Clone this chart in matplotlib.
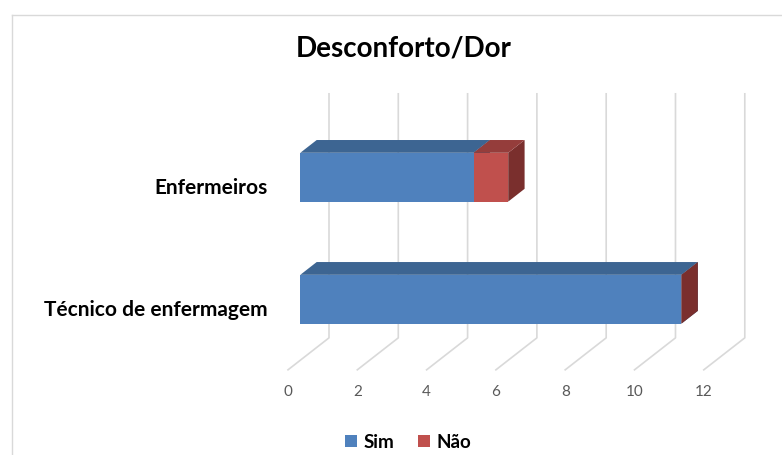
import matplotlib.pyplot as plt
from matplotlib.patches import Polygon

categories = ['Técnico de enfermagem', 'Enfermeiros']
sim = [11, 5]
nao = [0, 1]
series = [('Sim', sim), ('Não', nao)]
ticks = [0, 2, 4, 6, 8, 10, 12]

# face colours per series: front, top, side
colors = {
    'Sim': ('#4F81BD', '#3D6592', '#34577F'),
    'Não': ('#C0504D', '#953D3B', '#7A2F2D'),
}

W, H = 782, 456
fig = plt.figure(figsize=(W / 100, H / 100), dpi=100)
ax = fig.add_axes([0, 0, 1, 1])
ax.set_xlim(-8.312, 14.257)
ax.set_ylim(-1.198, 2.539)
ax.axis('off')

# oblique depth: full depth shifts right and up
DX, DY = 1.183, 0.262
floor, top = -0.5, 1.5
half = 0.2
d0, d1 = 0.3, 0.7


def p(v, y, d):
    return (v + d * DX, y + d * DY)


# gridlines: floor diagonals and back wall verticals
for t in ticks:
    x0, y0 = p(t, floor, 0)
    x1, y1 = p(t, floor, 1)
    x2, y2 = p(t, top, 1)
    ax.plot([x0, x1, x2], [y0, y1, y2], color='#D9D9D9', lw=1.2, zorder=1)
    ax.text(x0, y0 - 0.17, str(t), ha='center', va='center', fontsize=11,
            color='#595959', family='Lato')

for i, cat in enumerate(categories):
    left = 0
    for name, vals in series:
        v = vals[i]
        right = left + v
        front_c, top_c, side_c = colors[name]
        lo, hi = i - half, i + half
        side = [p(right, lo, d0), p(right, hi, d0), p(right, hi, d1), p(right, lo, d1)]
        topf = [p(left, hi, d0), p(right, hi, d0), p(right, hi, d1), p(left, hi, d1)]
        front = [p(left, lo, d0), p(right, lo, d0), p(right, hi, d0), p(left, hi, d0)]
        ax.add_patch(Polygon(side, closed=True, fc=side_c, ec='none', zorder=2))
        if v > 0:
            ax.add_patch(Polygon(topf, closed=True, fc=top_c, ec='none', zorder=2))
            ax.add_patch(Polygon(front, closed=True, fc=front_c, ec='none', zorder=2))
        left = right
    lx, ly = p(-0.6, i, 0)
    ax.text(lx, ly, cat, ha='right', va='center', fontsize=15, fontweight='bold',
            color='black', family='Lato')

fig.text(404 / W, 1 - 48 / H, 'Desconforto/Dor', ha='center', va='center',
         fontsize=20, fontweight='bold', family='Lato')

# legend
handles = [plt.Rectangle((0, 0), 1, 1, fc=colors[n][0]) for n, _ in series]
leg = fig.legend(handles, [n for n, _ in series], loc='center', ncol=2,
                 bbox_to_anchor=(408 / W, 1 - 443 / H), frameon=False,
                 handlelength=0.65, handleheight=0.65, handletextpad=0.3,
                 columnspacing=1.3, prop={'family': 'Lato', 'weight': 'bold', 'size': 13.5})

# chart border
fig.add_artist(plt.Line2D([12 / W, 1], [1 - 16 / H, 1 - 16 / H], color='#D9D9D9', lw=1))
fig.add_artist(plt.Line2D([12 / W, 12 / W], [0, 1 - 16 / H], color='#D9D9D9', lw=1))

fig.savefig('out.png', dpi=100)
